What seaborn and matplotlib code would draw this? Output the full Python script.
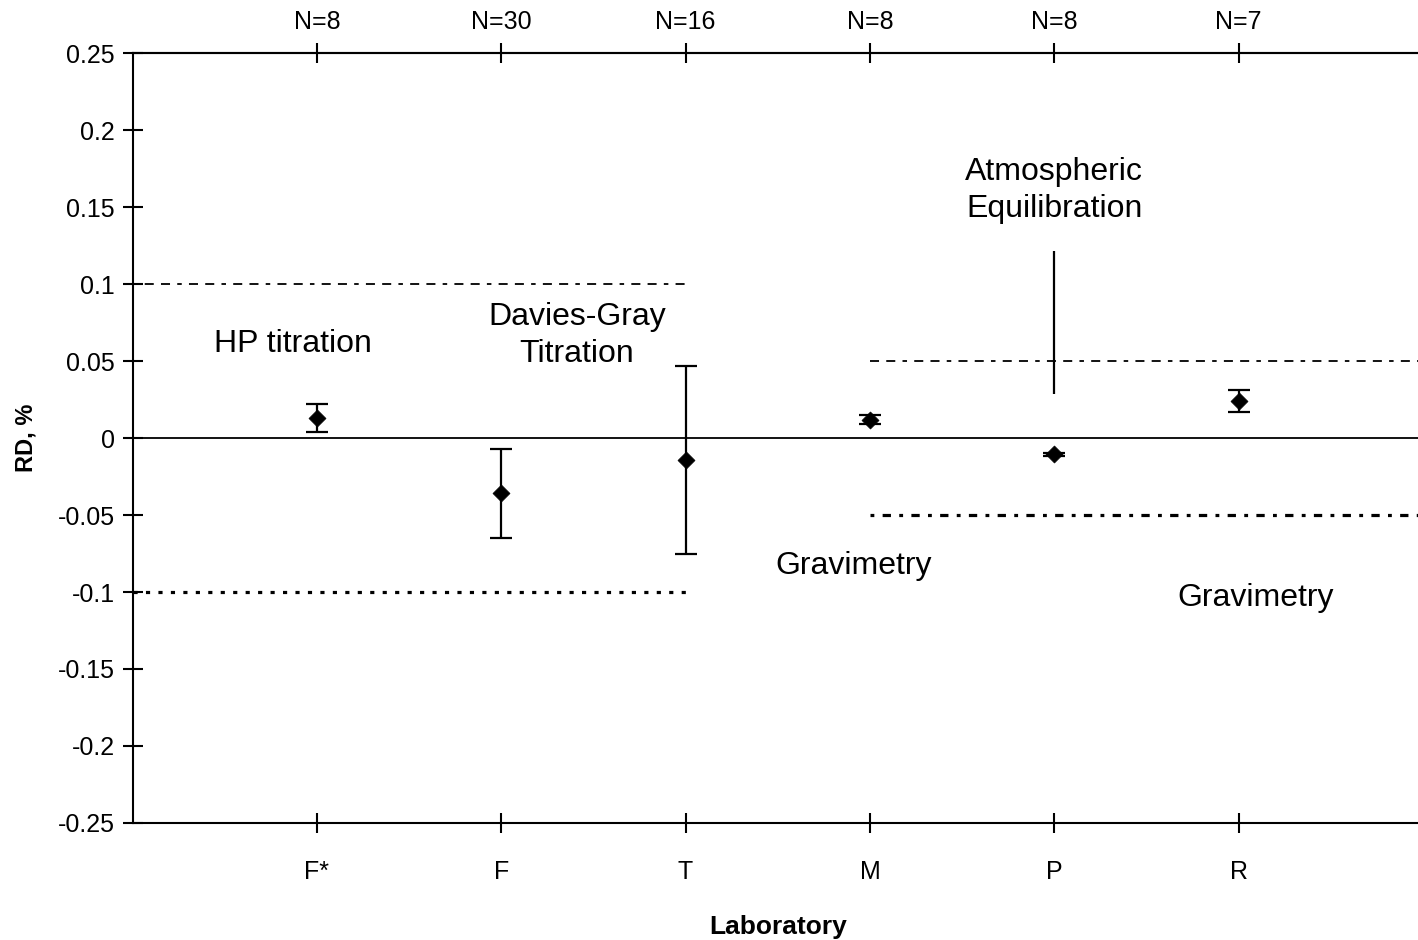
import numpy as np
import pandas as pd
import matplotlib
matplotlib.use("Agg")
import matplotlib.pyplot as plt
import seaborn as sns

# Laboratory results: relative difference (RD, %) with uncertainty
labs = ["F*", "F", "T", "M", "P", "R"]
n_counts = ["N=8", "N=30", "N=16", "N=8", "N=8", "N=7"]
rd_mean = [0.013, -0.036, -0.014, 0.012, -0.0105, 0.024]
rd_err = [0.009, 0.029, 0.061, 0.003, 0.001, 0.007]

# Range bar for atmospheric equilibration (lab P)
range_lab = "P"
range_low = 0.0287
range_high = 0.1218

# Method tolerance bands: (x start, x end, level)
band_upper_left = (0, 3, 0.10)
band_lower_left = (0, 3, -0.10)
band_upper_right = (4, 7, 0.05)
band_lower_right = (4, 7, -0.05)

# Method annotations: (text, x, y)
method_labels = [
    ("HP titration", 0.87, 0.061),
    ("Davies-Gray\nTitration", 2.41, 0.0665),
    ("Gravimetry", 3.91, -0.083),
    ("Atmospheric\nEquilibration", 5.0, 0.1605),
    ("Gravimetry", 6.09, -0.104),
]

sns.set_theme(style="white")
plt.rcParams["font.family"] = ["Liberation Sans", "DejaVu Sans"]
plt.rcParams["text.color"] = "black"

pos = np.arange(1, len(labs) + 1)
df = pd.DataFrame({"pos": pos, "lab": labs, "rd": rd_mean, "err": rd_err})

fig = plt.figure(figsize=(14.18, 9.40), dpi=100)
ax = fig.add_axes([0.0935, 0.1245, 0.910, 0.819])

# zero reference line
ax.axhline(0, color="black", lw=1.3, zorder=1)

# tolerance bands
ax.plot(band_upper_left[:2], [band_upper_left[2]] * 2, color="black", lw=1.3,
        dashes=(2.5, 4, 5, 4, 5, 4), zorder=1)
ax.plot(band_lower_left[:2], [band_lower_left[2]] * 2, color="black", lw=2.3,
        dashes=(1.3, 2.6), zorder=1)
ax.plot(band_upper_right[:2], [band_upper_right[2]] * 2, color="black", lw=1.3,
        dashes=(5, 4, 5, 4, 2.5, 4), zorder=1)
ax.plot(band_lower_right[:2], [band_lower_right[2]] * 2, color="black", lw=2.3,
        dashes=(1.2, 2.6, 2.6, 2.6), zorder=1)

# range bar for lab P
ax.vlines(pos[labs.index(range_lab)], range_low, range_high, color="black", lw=1.6, zorder=2)

# error bars and points
ax.errorbar(df["pos"], df["rd"], yerr=df["err"], fmt="none", ecolor="black",
            elinewidth=1.6, capsize=8, capthick=1.6, zorder=2)
sns.scatterplot(data=df, x="pos", y="rd", marker="D", s=75, color="black",
                edgecolor="black", linewidth=0.5, ax=ax, zorder=3, legend=False)

for txt, x, y in method_labels:
    ax.text(x, y, txt, ha="center", va="center", fontsize=23, color="black",
            linespacing=1.3)

ax.set_xlim(0, 7)
ax.set_ylim(-0.25, 0.25)
yt = np.round(np.arange(-0.25, 0.2501, 0.05), 2)
ax.set_yticks(yt)
ax.set_yticklabels([("0" if abs(v) < 1e-9 else "%g" % v) for v in yt], fontsize=18)
ax.set_xticks(pos)
ax.set_xticklabels(labs, fontsize=18)

for side in ["left", "bottom", "top"]:
    ax.spines[side].set_visible(True)
    ax.spines[side].set_color("black")
    ax.spines[side].set_linewidth(1.5)
ax.spines["right"].set_visible(False)

ax.tick_params(axis="x", which="major", direction="inout", length=14, width=1.5,
               color="black", pad=20, labelcolor="black", bottom=True)
ax.tick_params(axis="y", which="major", direction="inout", length=14, width=1.5,
               color="black", pad=6, labelcolor="black", left=True)

top = ax.secondary_xaxis("top")
top.set_xticks(pos)
top.set_xticklabels(n_counts, fontsize=18, color="black")
top.tick_params(direction="inout", length=14, width=1.5, color="black", pad=7,
                labelcolor="black")
top.spines["top"].set_linewidth(1.5)

ax.set_xlabel("Laboratory", fontsize=19, fontweight="bold", labelpad=22, color="black")
ax.set_ylabel("RD, %", fontsize=17, fontweight="bold", labelpad=14, color="black")
ax.grid(False)

fig.savefig("out.png", dpi=100, facecolor="white")
